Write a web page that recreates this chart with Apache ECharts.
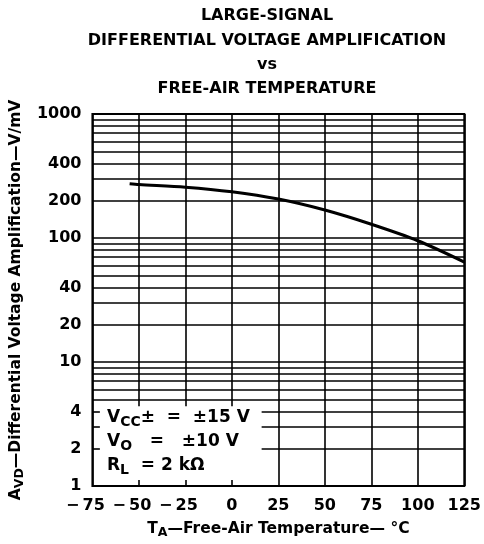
<!DOCTYPE html>
<html>
<head>
<meta charset="utf-8">
<script src="https://cdn.jsdelivr.net/npm/echarts@6/dist/echarts.min.js"></script>
<style>html,body{margin:0;padding:0;background:#fff}#c{width:484px;height:544px}</style>
</head>
<body>
<div id="c"></div>
<script>
// Data
const temperatures = [-55, -50, -25, 0, 25, 50, 75, 100, 125];
const avd = [274, 270, 257, 236, 206, 168, 129, 95, 64];
const xTickLabels = [-75, -50, -25, 0, 25, 50, 75, 100, 125];
const yDecadeLabels = [1, 10, 100, 1000];
const yExtraLabels = [2, 4, 20, 40, 200, 400];
const titleLines = ['LARGE-SIGNAL', 'DIFFERENTIAL VOLTAGE AMPLIFICATION', 'vs', 'FREE-AIR TEMPERATURE'];

const FONT = '"DejaVu Sans", "Liberation Sans", sans-serif';
// region of the plot hidden behind the conditions box (axis units)
const boxX = [-71, 16];
const boxY = [1.12, 4.4];

const minorGrid = [];
[1, 10, 100].forEach(d => { for (let k = 2; k <= 9; k++) minorGrid.push(k * d); });

const labelStyle = {color: '#000', fontFamily: FONT, fontWeight: 'bold', fontSize: 16};
const lineData = [];
minorGrid.forEach(v => {
  const lab = yExtraLabels.includes(v)
    ? Object.assign({show: true, position: 'start', distance: 11, formatter: String(v)}, labelStyle)
    : {show: false};
  if (v > boxY[0] && v < boxY[1]) {
    lineData.push([{coord: [-75, v], label: lab}, {coord: [boxX[0], v]}]);
    lineData.push([{coord: [boxX[1], v]}, {coord: [125, v]}]);
  } else {
    lineData.push({yAxis: v, label: lab});
  }
});

const chart = echarts.init(document.getElementById('c'), null, {renderer: 'canvas'});

const nameRich = {
  b: {color: '#000', fontFamily: FONT, fontWeight: 'bold', fontSize: 15.5},
  s: {color: '#000', fontFamily: FONT, fontWeight: 'bold', fontSize: 12.5, padding: [7, 0, 0, 0]}
};

chart.setOption({
  backgroundColor: '#fff',
  animation: false,
  title: {
    text: titleLines.join('\n'),
    left: 267, top: 4, padding: 0, textAlign: 'center',
    textStyle: {color: '#000', fontFamily: FONT, fontWeight: 'bold', fontSize: 16, lineHeight: 24.3}
  },
  grid: {left: 92, right: 16, top: 114, bottom: 56, show: true, borderColor: '#000', borderWidth: 2, backgroundColor: 'transparent'},
  xAxis: {
    type: 'value', min: -75, max: 125, interval: 25,
    axisLine: {show: false}, axisTick: {show: false},
    splitLine: {show: true, lineStyle: {color: '#000', width: 1.6}},
    axisLabel: Object.assign({}, labelStyle, {
      margin: 12,
      formatter: v => v < 0 ? '{neg|\u2212\u2009' + Math.abs(v) + '}' : String(v),
      rich: {neg: Object.assign({}, labelStyle, {padding: [0, 14, 0, 0]})}
    }),
    name: '{b|T}{s|A}{b|\u2014Free-Air Temperature\u2014 \u00B0C}',
    nameLocation: 'middle', nameGap: 33,
    nameTextStyle: {rich: nameRich}
  },
  yAxis: {
    type: 'log', logBase: 10, min: 1, max: 1000,
    axisLine: {show: false}, axisTick: {show: false},
    splitLine: {show: true, lineStyle: {color: '#000', width: 1.6}},
    minorSplitLine: {show: false},
    axisLabel: Object.assign({}, labelStyle, {margin: 11, formatter: v => yDecadeLabels.includes(Math.round(v)) ? String(Math.round(v)) : ''}),
    name: '{b|A}{s|VD}{b|\u2014Differential Voltage Amplification\u2014V/mV}',
    nameLocation: 'middle', nameGap: 64, nameRotate: 90,
    nameTextStyle: {rich: nameRich}
  },
  series: [
    {
      type: 'line', data: [], z: 1, silent: true,
      markLine: {
        silent: true, symbol: 'none', animation: false,
        lineStyle: {color: '#000', width: 1.6, type: 'solid'},
        label: {show: false},
        data: lineData
      }
    },
    {
      type: 'line', data: [], z: 3, silent: true,
      markArea: {
        silent: true,
        itemStyle: {color: '#fff', opacity: 1},
        data: [[{xAxis: boxX[0], yAxis: boxY[0]}, {xAxis: boxX[1], yAxis: boxY[1]}]]
      }
    },
    {
      type: 'line', z: 5, smooth: 0.3, symbol: 'none',
      lineStyle: {color: '#000', width: 3},
      data: temperatures.map((t, i) => [t, avd[i]])
    }
  ],
  graphic: [
    {
      type: 'text', left: 107, top: 407, z: 100,
      style: {
        text: '{m|V}{s|CC}{m|\u00B1  =  \u00B115 V}\n{m|V}{s|O}{m|   =   \u00B110 V}\n{m|R}{s|L}{m|  = 2 k\u03A9}',
        rich: {
          m: {fill: '#000', fontFamily: FONT, fontWeight: 'bold', fontSize: 17, lineHeight: 24},
          s: {fill: '#000', fontFamily: FONT, fontWeight: 'bold', fontSize: 14, lineHeight: 24, padding: [8, 0, 0, 0]}
        }
      }
    }
  ]
});
</script>
</body>
</html>
